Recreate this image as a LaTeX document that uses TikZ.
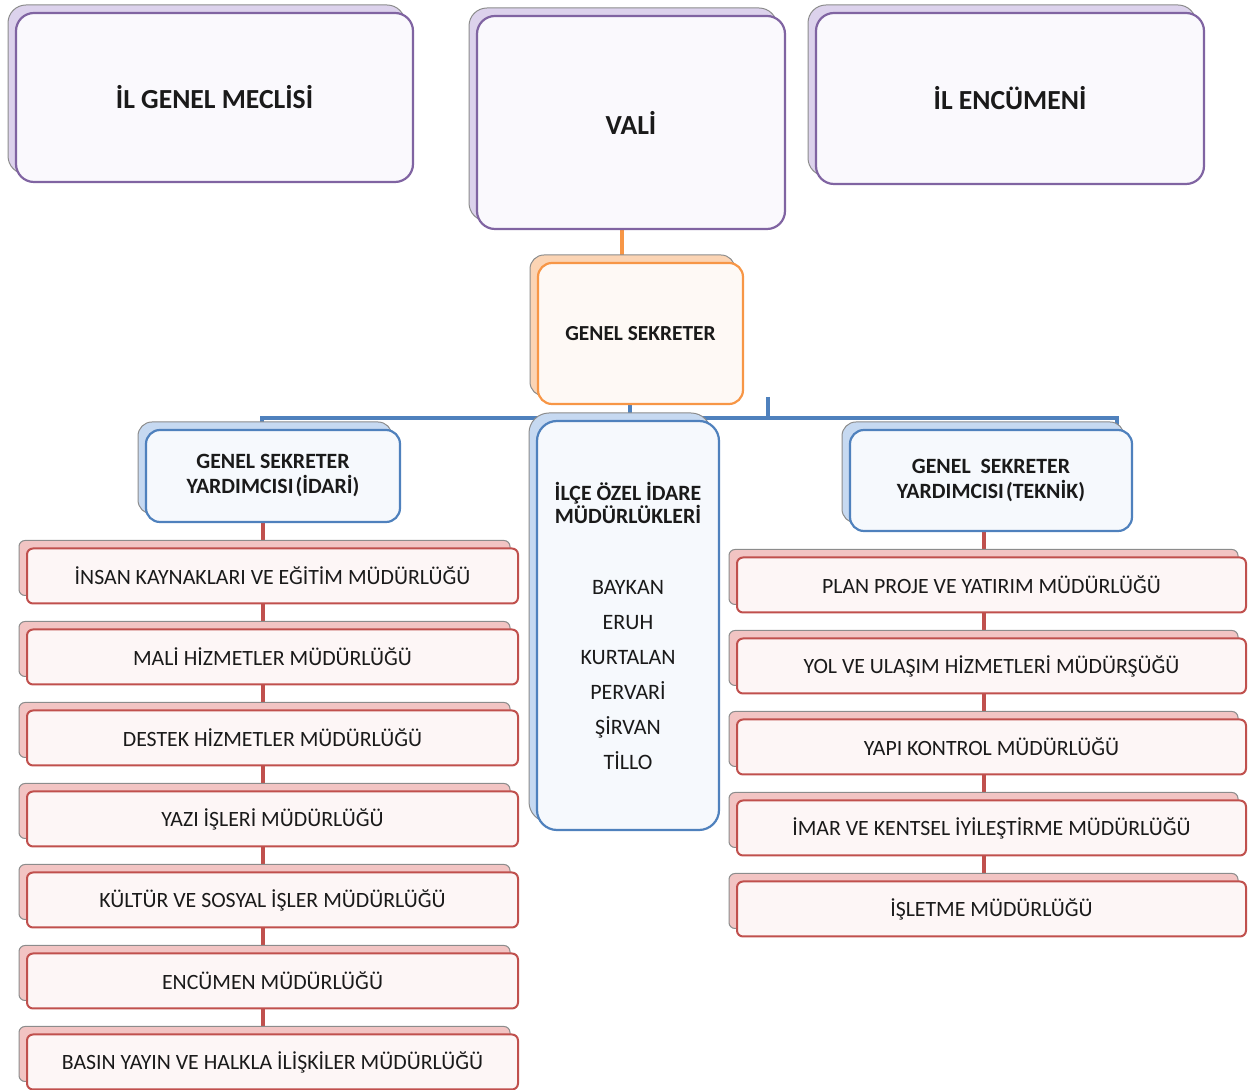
\documentclass[tikz,border=0pt]{standalone}
\usepackage{fontspec}
\setmainfont{Carlito}
\usetikzlibrary{shadows,backgrounds}

\definecolor{vioBorder}{HTML}{8064A2}
\definecolor{vioFill}{HTML}{FAF9FD}
\definecolor{vioBack}{HTML}{DCD2EC}
\definecolor{oraBorder}{HTML}{F79646}
\definecolor{oraFill}{HTML}{FEF9F5}
\definecolor{oraBack}{HTML}{FBD4B4}
\definecolor{bluBorder}{HTML}{4F81BD}
\definecolor{bluFill}{HTML}{F6F9FD}
\definecolor{bluBack}{HTML}{C6D9F1}
\definecolor{redBorder}{HTML}{C0504D}
\definecolor{redFill}{HTML}{FDF6F6}
\definecolor{redBack}{HTML}{F2C4C3}
\definecolor{shadowGray}{HTML}{8C8C8C}
\definecolor{textBlack}{HTML}{1A1A1A}

\tikzset{
  backcopy/.style={copy shadow={shadow xshift=-4pt, shadow yshift=4pt, fill=#1, draw=shadowGray, line width=0.5pt}},
  topbox/.style={draw=vioBorder, fill=vioFill, line width=1.1pt, rounded corners=9pt, backcopy=vioBack,
    text=textBlack, inner sep=0pt, font=\fontsize{13.8}{16}\selectfont\bfseries},
  gsbox/.style={draw=oraBorder, fill=oraFill, line width=1.1pt, rounded corners=7pt, backcopy=oraBack,
    text=textBlack, inner sep=0pt, font=\fontsize{10.7}{12}\selectfont\bfseries},
  yardimbox/.style={draw=bluBorder, fill=bluFill, line width=1.1pt, rounded corners=7pt, backcopy=bluBack,
    text=textBlack, inner sep=0pt, align=center, font=\fontsize{10.9}{12.5}\selectfont\bfseries},
  ilcebox/.style={draw=bluBorder, fill=bluFill, line width=1.1pt, rounded corners=10pt, backcopy=bluBack,
    text=textBlack, inner sep=0pt, align=center, font=\fontsize{11}{17.5}\selectfont},
  mudurbox/.style={draw=redBorder, fill=redFill, line width=1pt, rounded corners=3pt, backcopy=redBack,
    text=textBlack, inner sep=0pt, minimum height=27.5pt, font=\fontsize{10.9}{13}\selectfont},
  gsline/.style={draw=oraBorder, line width=2pt},
  busline/.style={draw=bluBorder, line width=2pt},
  redline/.style={draw=redBorder, line width=2pt}
}

\begin{document}
\begin{tikzpicture}[x=0.5pt, y=-0.5pt]

\useasboundingbox (0,0) rectangle (1250,1090);

% Top row
\node[topbox, minimum width=198.5pt, minimum height=84.5pt] (meclis) at (214.5,97.5) {İL GENEL MECLİSİ};
\node[topbox, minimum width=154pt, minimum height=106.5pt] (vali) at (631,122.5) {VALİ};
\node[topbox, minimum width=194pt, minimum height=85.5pt] (encumen) at (1010,98.5) {İL ENCÜMENİ};

% Genel sekreter
\node[gsbox, minimum width=102.5pt, minimum height=70.5pt] (gs) at (640.5,333.5) {GENEL SEKRETER};

% Second level
\node[yardimbox, minimum width=127pt, minimum height=46pt] (idari) at (273,476)
  {GENEL SEKRETER\\YARDIMCISI\kern1pt(İDARİ)};
\node[ilcebox, minimum width=91pt, minimum height=204.5pt] (ilce) at (628,625.5)
  {\textbf{\fontsize{10.9}{12}\selectfont İLÇE ÖZEL İDARE}\\[-6pt]
   \textbf{\fontsize{10.9}{12}\selectfont MÜDÜRLÜKLERİ}\\[18pt]
   BAYKAN\\ERUH\\KURTALAN\\PERVARİ\\ŞİRVAN\\TİLLO};
\node[yardimbox, minimum width=141pt, minimum height=50.5pt] (teknik) at (991,480.5)
  {GENEL\ \ SEKRETER\\YARDIMCISI\kern1pt(TEKNİK)};

% Left column of units
\foreach \label [count=\i] in {
    İNSAN KAYNAKLARI VE EĞİTİM MÜDÜRLÜĞÜ,
    MALİ HİZMETLER MÜDÜRLÜĞÜ,
    DESTEK HİZMETLER MÜDÜRLÜĞÜ,
    YAZI İŞLERİ MÜDÜRLÜĞÜ,
    KÜLTÜR VE SOSYAL İŞLER MÜDÜRLÜĞÜ,
    ENCÜMEN MÜDÜRLÜĞÜ,
    BASIN YAYIN VE HALKLA İLİŞKİLER MÜDÜRLÜĞÜ
  }
{
  \node[mudurbox, minimum width=245.5pt] (l\i) at (272.5,{495+81*\i}) {\label};
}

% Right column of units
\foreach \label [count=\i] in {
    PLAN PROJE VE YATIRIM MÜDÜRLÜĞÜ,
    YOL VE ULAŞIM HİZMETLERİ MÜDÜRŞÜĞÜ,
    YAPI KONTROL MÜDÜRLÜĞÜ,
    İMAR VE KENTSEL İYİLEŞTİRME MÜDÜRLÜĞÜ,
    İŞLETME MÜDÜRLÜĞÜ
  }
{
  \node[mudurbox, minimum width=254.5pt] (r\i) at (991.5,{504+81*\i}) {\label};
}

% Connectors
\coordinate (bus) at (630,418);
\coordinate (tick) at (768,397);

\begin{scope}[on background layer]
  \draw[gsline] ([xshift=-4.5pt]vali.south) -- ([xshift=-4.5pt]vali.south |- gs.north);
  \draw[busline] (gs.south -| bus) -- (bus);
  \draw[busline] (tick) -- (tick |- bus);
  \draw[busline] ([xshift=-5.5pt]idari.north) |- (bus) -| ([xshift=63pt]teknik.north);
  \draw[redline] ([xshift=-5pt]idari.south) -- ([xshift=-5pt]idari.south |- l7.north);
  \draw[redline] ([xshift=-3.5pt]teknik.south) -- ([xshift=-3.5pt]teknik.south |- r5.north);
\end{scope}

\end{tikzpicture}
\end{document}
